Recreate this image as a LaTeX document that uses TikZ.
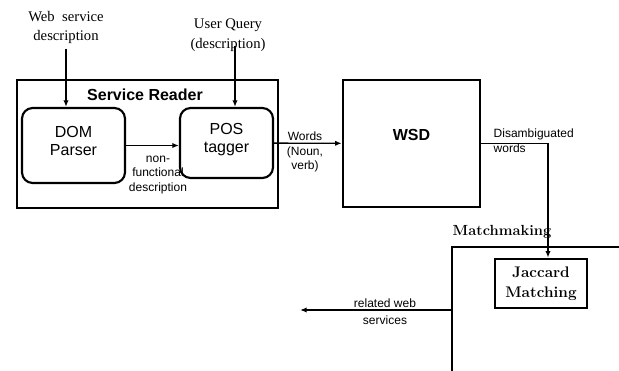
\documentclass[tikz,border=0pt]{standalone}
\usepackage{fontspec}
\newfontfamily\arialfont{Liberation Sans}
\newfontfamily\timesfont{Liberation Serif}
\usetikzlibrary{arrows.meta, positioning}

\begin{document}
\begin{tikzpicture}[x=0.75pt, y=-0.75pt,
    block/.style={draw=black, line width=1.9pt},
    roundblock/.style={draw=black, line width=1.6pt, rounded corners=8pt},
    blocktext/.style={font=\arialfont\fontsize{12}{13.5}\selectfont, align=center},
    smalllabel/.style={font=\arialfont\fontsize{9}{11}\selectfont, align=center},
    inputlabel/.style={font=\timesfont\fontsize{11}{14.5}\selectfont, align=center},
    flow/.style={-{Latex[length=5pt, width=4pt]}, line width=1pt}]
    \useasboundingbox (0,0) rectangle (619,371);

    % Service Reader with its two steps
    \node[block, minimum width=195.75pt, minimum height=96pt] (reader) at (147.5,144) {};
    \node[font=\arialfont\bfseries\fontsize{12}{14}\selectfont] (readertitle) at (145,95) {Service Reader};
    \node[roundblock, minimum width=77.25pt, minimum height=56.25pt] (dom) at (73.5,145.5) {};
    \node[blocktext] (domtext) at (73.5,141) {DOM\\Parser};
    \node[roundblock, minimum width=69.75pt, minimum height=52.5pt] (pos) at (226.5,143) {};
    \node[blocktext] (postext) at (226.5,140) {POS\\tagger};

    % WSD and Matchmaking
    \node[block, minimum width=102.75pt, minimum height=95.25pt] (wsd) at (411.5,143.5) {};
    \node[blocktext, font=\arialfont\bfseries\fontsize{12}{14}\selectfont] (wsdtext) at (411.5,135) {WSD};
    \node[block, minimum width=141pt, minimum height=114.75pt] (match) at (546,323.5) {};
    \node[font=\bfseries\fontsize{11}{13}\selectfont] (matchtitle) at (502,232) {Matchmaking};
    \node[block, line width=2pt, minimum width=69pt, minimum height=36.75pt,
        font=\bfseries\fontsize{11.5}{15}\selectfont, align=center] (jaccard) at (541,283.5) {Jaccard\\Matching};

    % Inputs
    \node[inputlabel] (wsdesc) at (66,27.5) {Web\enspace service\\description};
    \node[inputlabel, font=\timesfont\fontsize{11}{15}\selectfont] (uquery) at (228,35) {User Query\\(description)};
    \coordinate (uqstart) at (235,46);
    \draw[flow] (wsdesc.south) -- (wsdesc.south |- dom.north);
    \draw[flow] (uqstart) -- (uqstart |- pos.north);

    % Flow between the blocks
    \draw[flow] (dom.east) -- (dom.east -| pos.west);
    \node[smalllabel] (nfdesc) at (158,175) {non-\\functional\\description};
    \draw[flow] (pos) -- (wsd);
    \node[smalllabel] (wordslabel) at (305,152) {Words\\(Noun,\\verb)};
    \coordinate (turn) at (548,143.5);
    \draw[flow] (wsd.east |- turn) -- (turn) -- (turn |- jaccard.north);
    \node[smalllabel, align=left, anchor=west] (dislabel) at (489,140.5) {Disambiguated\\words};

    % Output
    \coordinate (relend) at (300,310);
    \draw[flow] (match.west |- relend) -- (relend);
    \node[smalllabel] (rellabel) at (385,311.5) {related web\\[2pt]services};
\end{tikzpicture}
\end{document}
